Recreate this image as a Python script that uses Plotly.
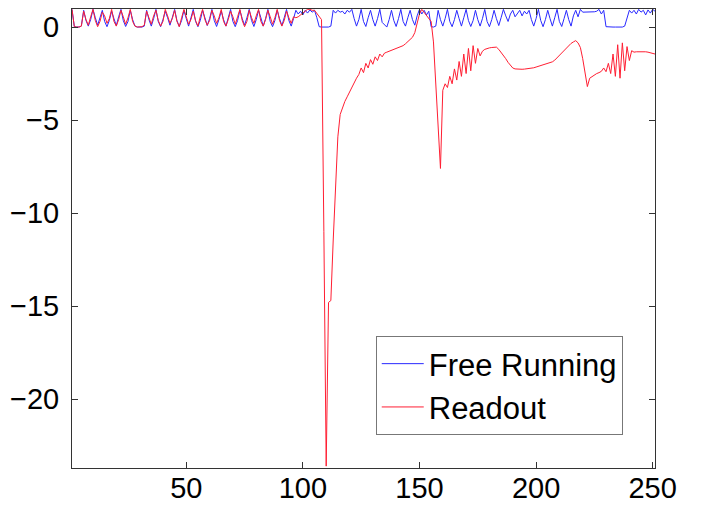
import plotly.graph_objects as go

# ---- data ----
free_running = [
    0.95, 0.02, 0.0, 0.0, 0.05,
    0.9, 0.35, 0.05, 0.4,
    0.95, 0.5, 0.1, 0.5,
    0.9, 0.3, 0.02, 0.35,
    0.85, 0.45, 0.08, 0.55,
    0.95, 0.35, 0.03, 0.3,
    0.9, 0.4, 0.05,
    0.0, 0.0, 0.0, 0.05,
    0.9, 0.4, 0.05, 0.45,
    0.95, 0.3, 0.02, 0.4,
    0.85, 0.5, 0.1, 0.5,
    0.95, 0.35, 0.03, 0.35,
    0.9, 0.45, 0.05, 0.5,
    0.95, 0.3, 0.02, 0.35,
    0.9, 0.5, 0.08, 0.45,
    0.95, 0.35, 0.03, 0.4,
    0.85, 0.4, 0.05, 0.5,
    0.95, 0.3, 0.02, 0.35,
    0.9, 0.45, 0.1, 0.5,
    0.95, 0.35, 0.03, 0.4,
    0.9, 0.5, 0.05, 0.45,
    0.95, 0.3, 0.02, 0.35,
    0.9, 0.45, 0.08, 0.5,
    0.95, 0.35, 0.05, 0.45,
    0.9, 0.7, 0.85, 0.65,
    0.9, 0.75, 0.92, 0.8,
    0.9, 0.5,
    0.02, 0.0, 0.0, 0.0, 0.0, 0.05,
    0.9,
    0.75, 0.9, 0.8, 0.85, 0.7, 0.9, 0.8, 0.95,
    0.45, 0.05, 0.4, 0.95,
    0.3, 0.03, 0.5,
    0.9, 0.4, 0.05, 0.45,
    0.95, 0.25, 0.1,
    0.0, 0.4, 0.9, 0.35,
    0.03, 0.45, 0.95, 0.3,
    0.05, 0.5, 0.9, 0.4,
    0.1, 0.6, 0.95,
    0.7, 0.9, 0.65, 0.85,
    0.02, 0.0, 0.05,
    0.9, 0.4, 0.05, 0.45,
    0.95, 0.3, 0.02, 0.4,
    0.9, 0.45, 0.05, 0.5,
    0.95, 0.35, 0.03, 0.35,
    0.9, 0.4, 0.05, 0.45,
    0.95, 0.3, 0.02, 0.4,
    0.9, 0.45, 0.08, 0.5,
    0.95, 0.6, 0.3, 0.7,
    0.9, 0.55, 0.75, 0.9,
    0.6, 0.85, 0.7, 0.9,
    0.4, 0.05, 0.45, 0.95,
    0.35, 0.02, 0.4, 0.9,
    0.45, 0.05, 0.5, 0.95,
    0.3, 0.03, 0.45, 0.9,
    0.4, 0.05,
    0.6, 0.9, 0.55, 0.95,
    0.8, 0.8, 0.82, 0.8, 0.8, 0.82, 0.85,
    0.95, 0.7, 0.9,
    0.02,
    0.0, 0.0, 0.0, 0.0, 0.0, 0.0, 0.0, 0.05,
    0.5, 0.9,
    0.75, 0.9, 0.7, 0.95, 0.8, 0.9, 0.65, 0.92, 0.75, 0.95, 0.85,
]

readout = [
    0.95, 0.02, 0.0, 0.0, 0.05,
    0.85, 0.4, 0.1, 0.55,
    0.95, 0.35, 0.02, 0.3,
    0.8, 0.6, 0.2, 0.45,
    0.95, 0.3, 0.05, 0.4,
    0.9, 0.55, 0.15, 0.5,
    0.95, 0.3, 0.05,
    0.0, 0.0, 0.02, 0.1,
    0.85, 0.5, 0.15, 0.6,
    0.9, 0.35, 0.05, 0.3,
    0.95, 0.6, 0.2, 0.45,
    0.9, 0.3, 0.02, 0.5,
    0.95, 0.55, 0.15, 0.4,
    0.85, 0.35, 0.05, 0.55,
    0.95, 0.4, 0.1, 0.35,
    0.9, 0.6, 0.2, 0.5,
    0.95, 0.3, 0.05, 0.4,
    0.85, 0.55, 0.15, 0.55,
    0.95, 0.35, 0.02, 0.3,
    0.9, 0.5, 0.2, 0.6,
    0.95, 0.3, 0.05, 0.4,
    0.9, 0.55, 0.15, 0.5,
    0.95, 0.35, 0.05, 0.35,
    0.85, 0.5, 0.2, 0.55,
    0.5, 0.55, 0.65, 0.8, 0.9, 0.95, 0.95, 0.9, 0.9, 0.75, 0.55,
    0.4, -11.0, -23.6, -14.8, -14.7,
    -11.5, -8.6, -5.9, -4.7, -4.3, -4.0, -3.75, -3.5, -3.2, -2.95, -2.75, -2.55,
    -2.2, -2.45, -1.95, -2.2, -1.75, -2.0, -1.6, -1.8, -1.45, -1.6,
    -1.4, -1.35, -1.3, -1.25, -1.2, -1.15, -1.1, -1.05, -1.0, -0.9, -0.8, -0.7,
    -0.55, -0.3, 0.2, 0.7, 0.95, 0.8, 0.6, 0.45, 0.3, -0.8, -3.3, -5.6, -7.6, -3.4,
    -3.05, -3.25, -2.65, -3.05, -2.25, -2.85, -1.85, -2.65,
    -1.45, -2.5, -1.15, -2.35, -1.0, -1.95, -1.15, -1.55,
    -1.3, -1.2, -1.15, -1.12, -1.1, -1.08, -1.08, -1.2, -1.35, -1.5,
    -1.7, -1.9, -2.08, -2.2, -2.25, -2.27, -2.27, -2.27, -2.26, -2.25,
    -2.24, -2.22, -2.19, -2.15, -2.11, -2.07, -2.03, -1.99, -1.95, -1.91,
    -1.87, -1.78, -1.65, -1.52, -1.4, -1.28, -1.15, -1.0, -0.88, -0.8,
    -0.73, -0.85, -1.1, -1.7, -2.4, -3.2, -2.75, -2.65, -2.58, -2.5,
    -2.45, -2.38,
    -2.2, -2.4, -1.95, -2.5, -1.45, -2.65, -0.95, -2.75, -0.85, -2.35, -1.05, -1.8, -1.27,
    -1.35, -1.33, -1.32, -1.32, -1.32, -1.33, -1.35, -1.38, -1.42, -1.45,
]

x_free = list(range(1, len(free_running) + 1))
x_read = list(range(1, len(readout) + 1))

x_tickvals = [50, 100, 150, 200, 250]
x_ticktext = ["50", "100", "150", "200", "250"]
y_tickvals = [0, -5, -10, -15, -20]
y_ticktext = ["0", "\u22125", "\u221210", "\u221215", "\u221220"]

fig = go.Figure()
fig.add_trace(go.Scatter(x=x_free, y=free_running, mode="lines", name="Free Running",
                         line=dict(color="rgb(40,40,255)", width=1)))
fig.add_trace(go.Scatter(x=x_read, y=readout, mode="lines", name="Readout",
                         line=dict(color="rgb(255,30,50)", width=1)))

axis_common = dict(showgrid=False, zeroline=False, showline=True, linecolor="#333",
                   linewidth=1, mirror="allticks", ticks="inside", ticklen=6,
                   tickcolor="#333", automargin=False,
                   tickfont=dict(family="Liberation Sans", size=29, color="black"))

fig.update_xaxes(range=[1, 251], tickvals=x_tickvals, ticktext=x_ticktext,
                 ticklabelstandoff=-6, **axis_common)
fig.update_yaxes(range=[-23.7, 0.97], tickvals=y_tickvals, ticktext=y_ticktext,
                 ticklabelstandoff=6, **axis_common)

fig.update_layout(
    width=704, height=506,
    margin=dict(l=72, r=49, t=9, b=38),
    paper_bgcolor="white", plot_bgcolor="white",
    showlegend=True,
    legend=dict(x=0.521, y=0.2876, xanchor="left", yanchor="top",
                bgcolor="white", bordercolor="#777", borderwidth=1,
                itemwidth=42,
                font=dict(family="Liberation Sans", size=31, color="black"),
                tracegroupgap=0),
)

fig.write_html("out.html")
